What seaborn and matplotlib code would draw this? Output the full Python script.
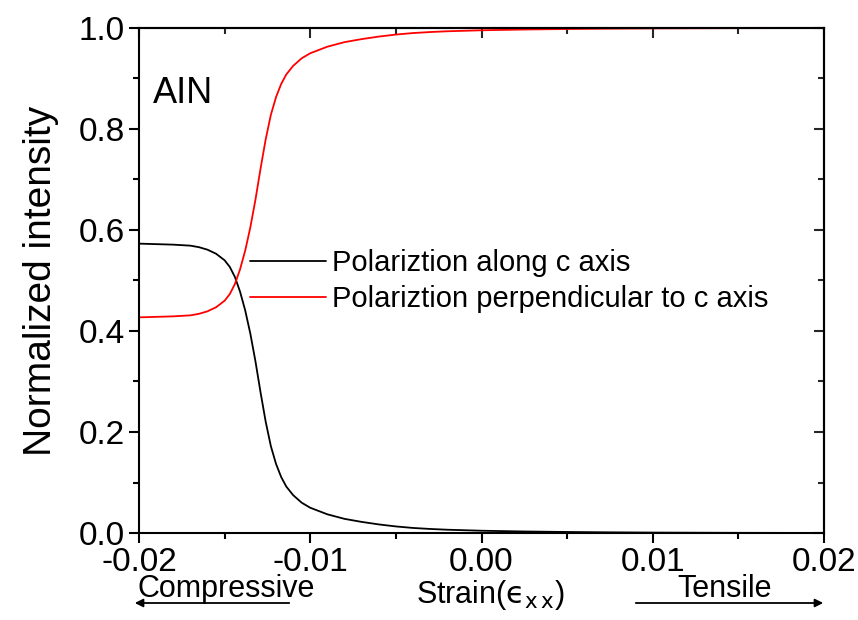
import seaborn as sns
import matplotlib.pyplot as plt
import numpy as np
import pandas as pd
from matplotlib.ticker import MultipleLocator

# values
strain = [-0.020, -0.019, -0.018, -0.017, -0.0165, -0.016, -0.0155, -0.015,
          -0.0147, -0.0144, -0.0141, -0.0138, -0.0135, -0.0132, -0.0129,
          -0.0126, -0.0123, -0.012, -0.0117, -0.0114, -0.011, -0.0105,
          -0.010, -0.009, -0.008, -0.007, -0.006, -0.005, -0.004, -0.003,
          -0.002, -0.001, 0.000, 0.0025, 0.005, 0.0075, 0.010, 0.015, 0.020]
along_c = [0.573, 0.572, 0.571, 0.569, 0.566, 0.561, 0.553, 0.540,
           0.527, 0.507, 0.478, 0.441, 0.395, 0.340, 0.278,
           0.220, 0.172, 0.137, 0.111, 0.092, 0.075, 0.060,
           0.050, 0.037, 0.028, 0.022, 0.017, 0.013, 0.010, 0.008,
           0.0065, 0.0055, 0.0045, 0.003, 0.002, 0.0013, 0.0008, 0.0003, 0.0001]
perp_c = [0.427, 0.428, 0.429, 0.431, 0.434, 0.439, 0.447, 0.460,
          0.473, 0.493, 0.522, 0.559, 0.605, 0.660, 0.722,
          0.780, 0.828, 0.863, 0.889, 0.908, 0.925, 0.940,
          0.950, 0.963, 0.972, 0.978, 0.983, 0.987, 0.990, 0.992,
          0.9935, 0.9945, 0.9955, 0.997, 0.998, 0.9987, 0.9992, 0.9997, 0.9999]
labels = ['Polariztion along c axis', 'Polariztion perpendicular to c axis']
x_ticks = [-0.02, -0.01, 0.00, 0.01, 0.02]
y_ticks = [0.0, 0.2, 0.4, 0.6, 0.8, 1.0]

df = pd.concat([
    pd.DataFrame({'strain': strain, 'intensity': along_c, 'pol': labels[0]}),
    pd.DataFrame({'strain': strain, 'intensity': perp_c, 'pol': labels[1]}),
])

sns.set_theme(style='ticks')
plt.rcParams['font.family'] = ['Liberation Sans', 'DejaVu Sans']
plt.rcParams['mathtext.fontset'] = 'custom'
plt.rcParams['mathtext.rm'] = 'DejaVu Sans'
plt.rcParams['mathtext.it'] = 'DejaVu Sans'
plt.rcParams['text.color'] = 'black'
plt.rcParams['axes.labelcolor'] = 'black'

fig = plt.figure(figsize=(8.58, 6.2), dpi=100)
ax = fig.add_axes([139 / 858, 1 - 533 / 620, 685 / 858, 505 / 620])

sns.lineplot(data=df, x='strain', y='intensity', hue='pol',
             palette=['black', 'red'], linewidth=1.3, ax=ax)

ax.set_xlim(-0.02, 0.02)
ax.set_ylim(0, 1.0)
ax.set_xticks(x_ticks)
ax.set_xticklabels([f'{t:.2f}' for t in x_ticks])
ax.set_yticks(y_ticks)
ax.set_yticklabels([f'{t:.1f}' for t in y_ticks])
ax.xaxis.set_minor_locator(MultipleLocator(0.005))
ax.yaxis.set_minor_locator(MultipleLocator(0.1))
ax.tick_params(which='major', direction='out', length=7, width=1.5,
               labelsize=24, pad=3, colors='black')
ax.tick_params(which='minor', direction='out', length=4, width=1.5, colors='black')
for s in ax.spines.values():
    s.set_linewidth(1.5)
    s.set_color('black')

# mirrored top/right axes with inward ticks
top = ax.secondary_xaxis('top')
top.set_xticks(x_ticks)
top.xaxis.set_minor_locator(MultipleLocator(0.005))
top.tick_params(which='major', direction='in', length=7, width=1.5, labeltop=False)
top.tick_params(which='minor', direction='in', length=4, width=1.5)
top.spines['top'].set_linewidth(1.5)
right = ax.secondary_yaxis('right')
right.set_yticks(y_ticks)
right.yaxis.set_minor_locator(MultipleLocator(0.1))
right.tick_params(which='major', direction='in', length=7, width=1.5, labelright=False)
right.tick_params(which='minor', direction='in', length=4, width=1.5)
right.spines['right'].set_linewidth(1.5)

ax.set_xlabel('')
ax.set_ylabel('Normalized intensity', fontsize=28, labelpad=14)

ax.legend(frameon=False, loc='upper left', bbox_to_anchor=(0.162, 0.562),
          borderaxespad=0, borderpad=0, fontsize=21, handlelength=2.6,
          handletextpad=0.2, labelspacing=0.28)

ax.text(0.02, 0.87, 'AIN', transform=ax.transAxes, fontsize=26, va='center')

fig.text(490 / 858, 1 - 595 / 620, 'Strain($\\mathrm{ϵ}_{\\mathrm{x\\,x}}$)',
         fontsize=22, ha='center', va='center')
fig.text(226 / 858, 1 - 589 / 620, 'Compressive', fontsize=22,
         ha='center', va='center')
fig.text(725 / 858, 1 - 589 / 620, 'Tensile', fontsize=22,
         ha='center', va='center')
arrow = dict(arrowstyle='-|>', lw=1.3, color='black', mutation_scale=12)
ax.annotate('', xy=(132 / 858, 1 - 603 / 620), xytext=(292 / 858, 1 - 603 / 620),
            xycoords='figure fraction', arrowprops=arrow, annotation_clip=False)
ax.annotate('', xy=(826 / 858, 1 - 603 / 620), xytext=(633 / 858, 1 - 603 / 620),
            xycoords='figure fraction', arrowprops=arrow, annotation_clip=False)

fig.savefig('out.png', dpi=100)
